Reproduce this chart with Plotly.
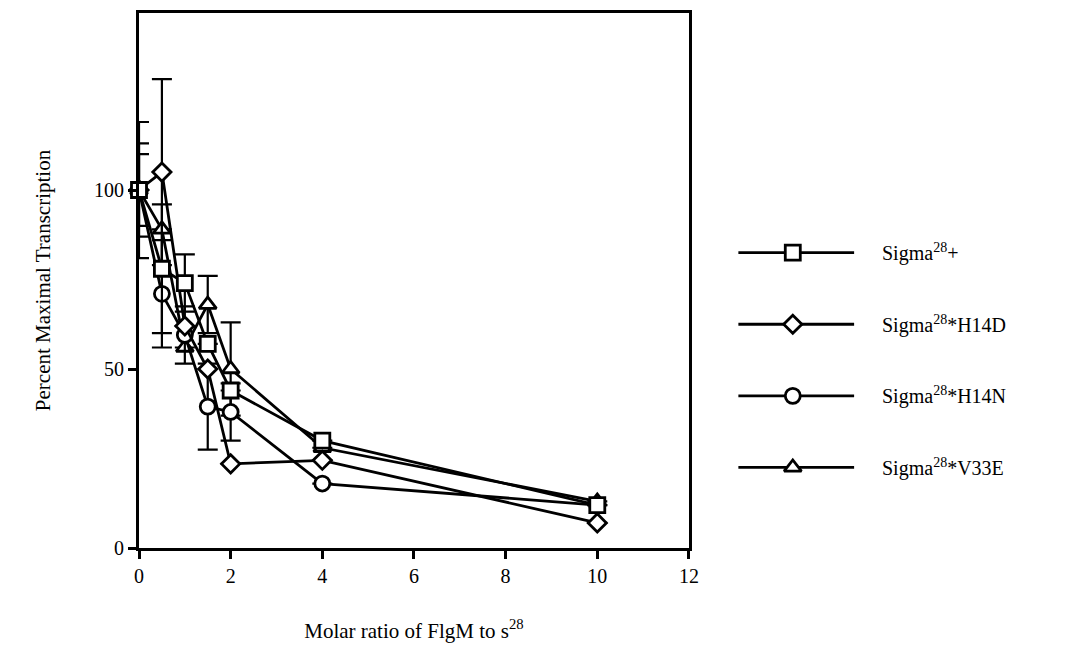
import plotly.graph_objects as go

# FlgM titration of sigma-28 variants
ratio = [0, 0.5, 1, 1.5, 2, 4, 10]

sigma_wt = [100, 78, 74, 57, 44, 30, 12]
sigma_h14d = [100, 105, 62, 50, 23.5, 24.5, 7]
sigma_h14n = [100, 71, 59.5, 39.5, 38, 18, 12]
sigma_v33e = [100, 89, 56, 68, 50, 28, 13]

err_wt = [10, 18, 8, None, None, None, None]
err_h14d = [19, 26, None, None, None, None, None]
err_h14n = [None, 15, 8, 12, 8, None, None]
err_v33e = [13, None, None, 8, 13, None, None]

series_names = ["Sigma<sup>28</sup>+", "Sigma<sup>28</sup>*H14D",
                "Sigma<sup>28</sup>*H14N", "Sigma<sup>28</sup>*V33E"]
symbols = ["square", "diamond", "circle", "triangle-up"]
marker_sizes = [15, 14, 15, 15]

x_ticks = [0, 2, 4, 6, 8, 10, 12]
y_ticks = [0, 50, 100]

FONT = "Liberation Serif"
W, H = 1065, 652
ML, MR, MT, MB = 139, 10, 10, 104
plot_w = W - ML - MR
main_right = 695
dom_main = (main_right - ML) / plot_w

fig = go.Figure()

values = [sigma_wt, sigma_h14d, sigma_h14n, sigma_v33e]
errors = [err_wt, err_h14d, err_h14n, err_v33e]

# draw in reverse so the wild-type squares sit on top
series = list(zip(series_names, values, errors, symbols, marker_sizes))
for name, vals, errs, sym, ms in reversed(series):
    fig.add_trace(go.Scatter(
        x=ratio, y=vals, name=name, mode="lines+markers",
        line=dict(color="black", width=2.8),
        marker=dict(symbol=sym, size=ms, color="white",
                    line=dict(color="black", width=2.8)),
        error_y=dict(type="data", array=errs, symmetric=True,
                     color="black", thickness=2.2, width=10),
        cliponaxis=False, showlegend=False,
    ))

# legend drawn on its own axes to the right of the plot
legend_rows_px = [251, 323, 395, 467]
x2_left = ML + 0.65 * plot_w
x2_span = W - MR - x2_left
def px_to_x2(px):
    return (px - x2_left) / x2_span
def py_to_y2(py):
    return (H - MB - py) / (H - MB - MT)

line_x0, line_x1, mark_x, text_x = 745, 862, 800, 888
for name, sym, ms, row in zip(series_names, symbols, marker_sizes, legend_rows_px):
    yv = py_to_y2(row)
    fig.add_trace(go.Scatter(
        x=[px_to_x2(line_x0), px_to_x2(line_x1)], y=[yv, yv], mode="lines",
        line=dict(color="black", width=2.8), xaxis="x2", yaxis="y2",
        showlegend=False, hoverinfo="skip"))
    fig.add_trace(go.Scatter(
        x=[px_to_x2(mark_x)], y=[yv], mode="markers",
        marker=dict(symbol=sym, size=ms, color="white",
                    line=dict(color="black", width=2.8)),
        xaxis="x2", yaxis="y2", showlegend=False, hoverinfo="skip"))
    fig.add_annotation(
        x=px_to_x2(text_x), y=yv, xref="x2", yref="y2", text=name,
        showarrow=False, xanchor="left", yanchor="middle",
        font=dict(family=FONT, size=20, color="black"))

axis_common = dict(
    showgrid=False, zeroline=False, showline=True, linecolor="black",
    linewidth=2.8, mirror=True, ticks="outside", ticklen=8, tickwidth=2.5,
    tickcolor="black", tickfont=dict(family=FONT, size=20, color="black"),
)

fig.update_layout(
    width=W, height=H, margin=dict(l=ML, r=MR, t=MT, b=MB),
    paper_bgcolor="white", plot_bgcolor="white",
    xaxis=dict(axis_common, domain=[0, dom_main], range=[0, 12],
               tickvals=x_ticks,
               title=dict(text="Molar ratio of FlgM to s<sup>28</sup>",
                          font=dict(family=FONT, size=21, color="black"),
                          standoff=38)),
    yaxis=dict(axis_common, range=[0, (H - MB - MT) / 3.6],
               tickvals=y_ticks,
               title=dict(text="Percent Maximal Transcription",
                          font=dict(family=FONT, size=21, color="black"),
                          standoff=38)),
    xaxis2=dict(domain=[0.65, 1], range=[0, 1], visible=False),
    yaxis2=dict(domain=[0, 1], range=[0, 1], visible=False, anchor="x2"),
    showlegend=False,
)

fig.write_html("out.html")
